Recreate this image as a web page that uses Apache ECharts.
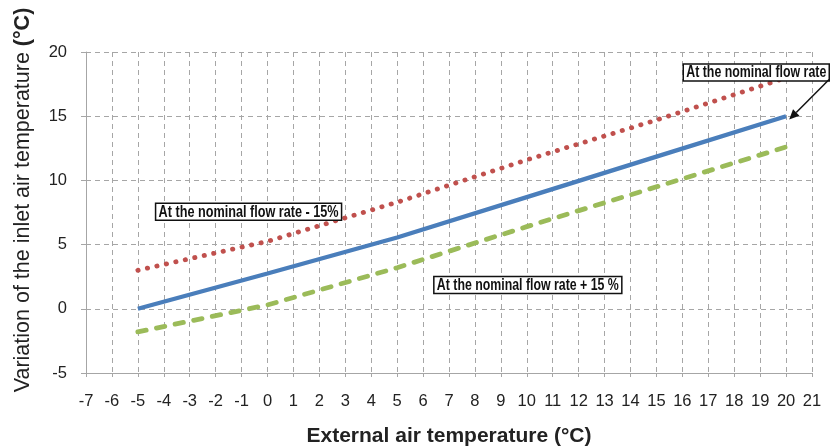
<!DOCTYPE html>
<html><head><meta charset="utf-8">
<script src="https://cdn.jsdelivr.net/npm/echarts@6/dist/echarts.min.js"></script>
<style>html,body{margin:0;padding:0;background:#fff}#c{width:832px;height:447px}</style>
</head><body><div id="c"></div>
<script>
// External air temperature (°C) at which values were read
const xTemps = [-5, 0, 5, 10, 15, 20];
// Variation of inlet air temperature (°C)
const nominal = [0, 2.75, 5.55, 8.7, 11.85, 15];
const minus15 = [3.0, 5.25, 8.3, 11.6, 14.7, 18.0];
const plus15 = [-1.8, 0.3, 3.2, 6.4, 9.5, 12.6];
const xTickMin = -7, xTickMax = 21, xStep = 1;
const yTickMin = -5, yTickMax = 20, yStep = 5;
const xTitle = 'External air temperature (°C)';
const yTitleMain = 'Variation of the inlet air temperature ';
const yTitleUnit = '(°C)';
const labelNominal = 'At the nominal flow rate';
const labelMinus = 'At the nominal flow rate - 15%';
const labelPlus = 'At the nominal flow rate + 15 %';
// annotation anchors (data coordinates)
const annMinusAt = [-0.73, 7.55];
const annPlusAt = [10.04, 1.85];
const annNominalAt = [18.85, 18.4];
const arrowFrom = [21.66, 17.86];
const arrowTo = [20.12, 14.74];

const pair = (xs, ys) => xs.map((x, i) => [x, ys[i]]);
const gridColor = '#A6A6A6';
const sans = "'Liberation Sans', Arial, sans-serif";

const mctx = document.createElement('canvas').getContext('2d');
function measure(text, font) { mctx.font = font; return mctx.measureText(text).width; }

const chart = echarts.init(document.getElementById('c'), null, {renderer: 'canvas'});
chart.setOption({
  animation: false,
  backgroundColor: '#fff',
  grid: {left: 86, right: 20, top: 52, bottom: 74, containLabel: false},
  xAxis: {
    type: 'value', min: xTickMin, max: xTickMax, interval: xStep,
    axisLine: {show: true, onZero: false, lineStyle: {color: gridColor, width: 1}},
    axisTick: {show: true, length: 4, lineStyle: {color: gridColor}},
    axisLabel: {color: '#222', fontSize: 16.5, fontFamily: sans, margin: 20},
    splitLine: {show: true, lineStyle: {color: gridColor, type: [5, 4], width: 1}}
  },
  yAxis: {
    type: 'value', min: yTickMin, max: yTickMax, interval: yStep,
    axisLine: {show: true, onZero: false, lineStyle: {color: gridColor, width: 1}},
    axisTick: {show: true, length: 5, lineStyle: {color: gridColor}},
    axisLabel: {color: '#222', fontSize: 16.5, fontFamily: sans, margin: 19},
    splitLine: {show: true, lineStyle: {color: gridColor, type: [5, 4], width: 1}}
  },
  series: [
    {name: labelMinus, type: 'line', data: pair(xTemps, minus15), showSymbol: false, symbol: 'none',
     lineStyle: {color: '#C0504D', width: 4.8, type: [0.3, 9.4], cap: 'round'}},
    {name: labelNominal, type: 'line', data: pair(xTemps, nominal), showSymbol: false, symbol: 'none',
     lineStyle: {color: '#4A7EBB', width: 4.3}},
    {name: labelPlus, type: 'line', data: pair(xTemps, plus15), showSymbol: false, symbol: 'none',
     lineStyle: {color: '#9BBB59', width: 4.8, type: [8.5, 10.5], cap: 'round'}}
  ]
});

function px(p) { return chart.convertToPixel({gridIndex: 0}, p); }
const boxFont = 'bold 16px ' + sans;
function box(text, at, boxW) {
  const c = px(at);
  const w = measure(text, boxFont);
  const s = (boxW - 6) / w;
  const h = 17;
  return [
    {type: 'rect', z: 49, shape: {x: c[0] - boxW / 2, y: c[1] - h / 2, width: boxW, height: h},
     style: {fill: '#fff', stroke: '#111', lineWidth: 1.5}},
    {type: 'text', z: 50, x: c[0], y: c[1] + 0.5, scaleX: s, scaleY: 1,
     style: {text: text, fill: '#111', font: boxFont, align: 'center', verticalAlign: 'middle'}}
  ];
}
const a = px(arrowFrom), b = px(arrowTo);
const ang = Math.atan2(b[1] - a[1], b[0] - a[0]);
const hl = 10, hw = 4.5;
const bx = b[0] - hl * Math.cos(ang), by = b[1] - hl * Math.sin(ang);

const xtFont = 'bold 21px ' + sans;
const xtScale = Math.min(1, 310 / measure(xTitle, xtFont));
const gridRect = {l: px([xTickMin, yTickMin]), r: px([xTickMax, yTickMax])};
const xtCenter = (gridRect.l[0] + gridRect.r[0]) / 2;

chart.setOption({graphic: [].concat(
  box(labelMinus, annMinusAt, 186),
  box(labelPlus, annPlusAt, 188),
  box(labelNominal, annNominalAt, 146),
  [
    {type: 'line', z: 49, shape: {x1: a[0], y1: a[1], x2: bx, y2: by}, style: {stroke: '#111', lineWidth: 1.5}},
    {type: 'polygon', z: 49, shape: {points: [
      [b[0], b[1]],
      [bx + hw * Math.sin(ang), by - hw * Math.cos(ang)],
      [bx - hw * Math.sin(ang), by + hw * Math.cos(ang)]
    ]}, style: {fill: '#111'}},
    {type: 'text', z: 50, x: xtCenter, y: gridRect.l[1] + 63, scaleX: xtScale,
     style: {text: xTitle, fill: '#222', font: xtFont, align: 'center', verticalAlign: 'middle'}},
    {type: 'text', z: 50, x: 23, y: 200, rotation: Math.PI / 2,
     style: {text: '{r|' + yTitleMain + '}{b|' + yTitleUnit + '}', align: 'center', verticalAlign: 'middle',
       rich: {
         r: {fontSize: 21.5, fontFamily: sans, fill: '#222'},
         b: {fontSize: 21.5, fontFamily: sans, fontWeight: 'bold', fill: '#222'}
       }}}
  ]
)});
</script></body></html>
